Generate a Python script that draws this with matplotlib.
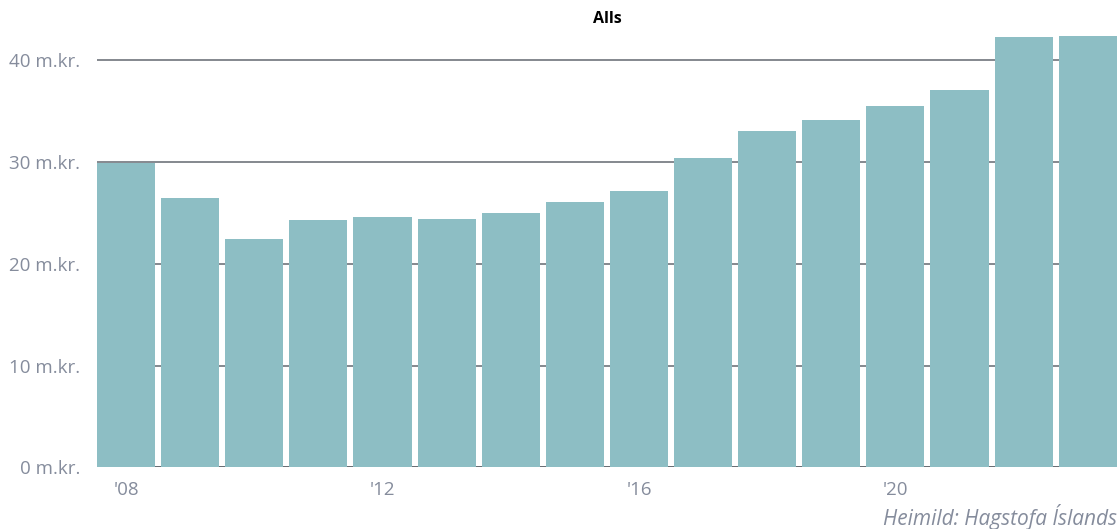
import matplotlib
matplotlib.use("Agg")
import matplotlib.pyplot as plt

years = list(range(2008, 2024))
values = [29.9, 26.4, 22.4, 24.3, 24.6, 24.4, 25.0, 26.1, 27.1,
          30.4, 33.0, 34.1, 35.5, 37.0, 42.2, 42.3]
tick_years = [2008, 2012, 2016, 2020]
tick_labels = ["'08", "'12", "'16", "'20"]
y_ticks = [0, 10, 20, 30, 40]
y_labels = [f"{v} m.kr." for v in y_ticks]

BAR = "#8dbec4"
GREY = "#858c9c"

plt.rcParams["font.family"] = ["Open Sans", "DejaVu Sans"]

fig = plt.figure(figsize=(11.19, 5.29), dpi=100)
ax = fig.add_axes([0.0867, 0.1163, 0.9113, 0.8283])

ax.bar(years, values, width=0.906, color=BAR, zorder=3)
for v in y_ticks[1:]:
    ax.axhline(v, color="#7b7f86", linewidth=1.3, zorder=1)
ax.axhline(0, color="#5a5f66", linewidth=1.3, zorder=1)

ax.set_xlim(2008 - 0.453, 2023 + 0.453)
ax.set_ylim(0, 43)
ax.set_xticks(tick_years, tick_labels)
ax.set_yticks(y_ticks, y_labels)
ax.tick_params(axis="both", length=0, colors=GREY, labelsize=13.5)
ax.tick_params(axis="y", pad=12)
ax.tick_params(axis="x", pad=10)
for s in ax.spines.values():
    s.set_visible(False)

fig.text(0.5425, 0.965, "Alls", ha="center", va="center",
         fontsize=11.5, fontweight="bold", color="black")
fig.text(0.998, 0.022, "Heimild: Hagstofa Íslands", ha="right", va="center",
         fontsize=15, style="italic", color=GREY)

fig.savefig("out.png", dpi=100)
